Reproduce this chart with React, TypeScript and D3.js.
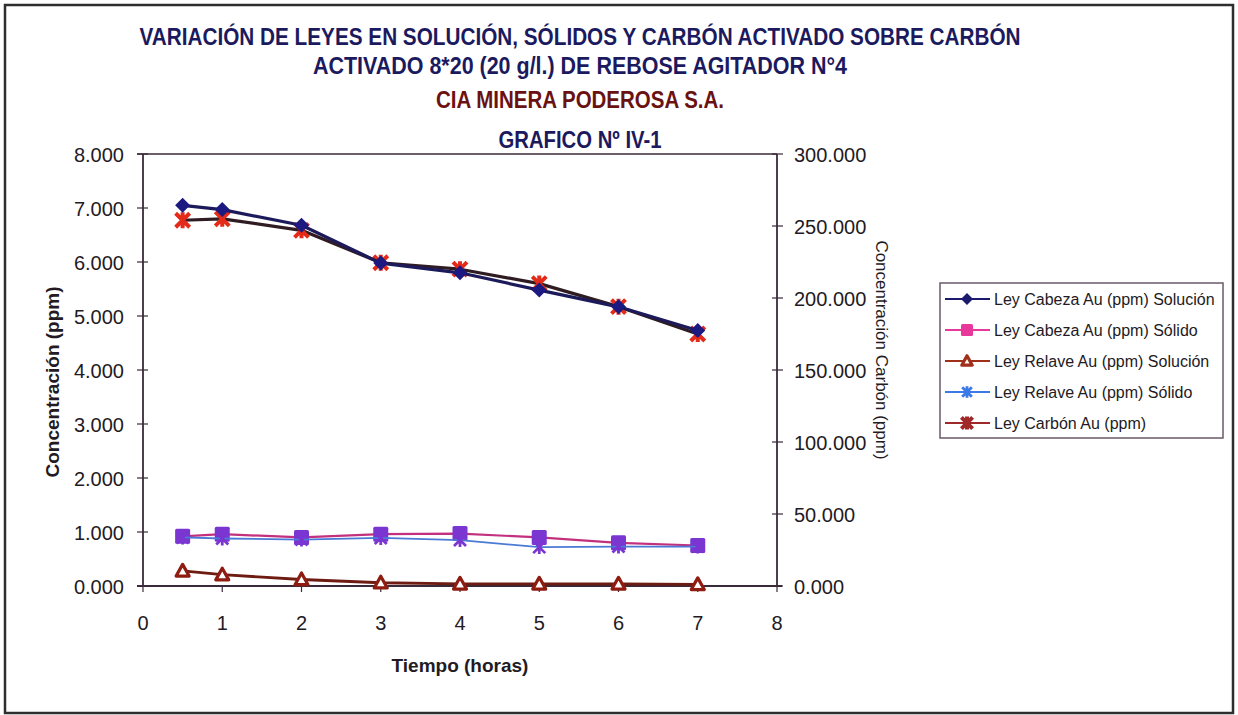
import React from "react";
import * as d3 from "d3";

const hours = [0.5, 1, 2, 3, 4, 5, 6, 7];
const cabezaSolucion = [7.05, 6.97, 6.68, 5.98, 5.8, 5.48, 5.17, 4.73];
const cabezaSolido = [0.92, 0.96, 0.9, 0.96, 0.97, 0.9, 0.8, 0.75];
const relaveSolucion = [0.28, 0.21, 0.12, 0.06, 0.04, 0.04, 0.04, 0.03];
const relaveSolido = [0.9, 0.88, 0.86, 0.89, 0.85, 0.72, 0.73, 0.73];
const carbon = [254, 255, 247, 224.5, 220, 210, 194, 175];

const xTicks = [0, 1, 2, 3, 4, 5, 6, 7, 8];
const leftTicks = [0, 1, 2, 3, 4, 5, 6, 7, 8];
const rightTicks = [0, 50, 100, 150, 200, 250, 300];

const titleLines = [
  "VARIACIÓN DE LEYES EN SOLUCIÓN, SÓLIDOS Y CARBÓN ACTIVADO SOBRE CARBÓN",
  "ACTIVADO 8*20 (20 g/l.) DE REBOSE AGITADOR N°4",
  "CIA MINERA PODEROSA S.A.",
  "GRAFICO Nº IV-1",
];
const legendLabels = [
  "Ley Cabeza Au (ppm) Solución",
  "Ley Cabeza Au (ppm) Sólido",
  "Ley Relave Au (ppm) Solución",
  "Ley Relave Au (ppm) Sólido",
  "Ley Carbón Au (ppm)",
];

const fmt = (v: number) => d3.format(".3f")(v).replace(/,/g, "");

const x = d3.scaleLinear().domain([0, 8]).range([143, 777]);
const yL = d3.scaleLinear().domain([0, 8]).range([586, 154]);
const yR = d3.scaleLinear().domain([0, 300]).range([586, 154]);

const AX = "#3a2a3a";
const TXT = "#231a23";
const FONT = "'Liberation Sans', Arial, sans-serif";
const NARROW = "'Liberation Sans Narrow', 'Arial Narrow', 'Liberation Sans', Arial, sans-serif";

type MarkerKind = "diamond" | "square" | "triangle" | "x" | "star";

function Marker({ kind, cx, cy, color, legend }: { kind: MarkerKind; cx: number; cy: number; color: string; legend?: boolean }) {
  const s = legend ? 0.8 : 1;
  if (kind === "diamond") {
    const r = 7.5 * s;
    return <path d={`M${cx},${cy - r}L${cx + r},${cy}L${cx},${cy + r}L${cx - r},${cy}Z`} fill={color} />;
  }
  if (kind === "square") {
    const r = 7.5 * s;
    return <rect x={cx - r} y={cy - r} width={2 * r} height={2 * r} rx={1.5} fill={color} />;
  }
  if (kind === "triangle") {
    const r = 6.5 * s;
    return (
      <path
        d={`M${cx},${cy - r}L${cx + r},${cy + r * 0.8}L${cx - r},${cy + r * 0.8}Z`}
        fill="#fff"
        stroke={color}
        strokeWidth={3.2}
        strokeLinejoin="round"
      />
    );
  }
  if (kind === "x") {
    const r = 6 * s;
    return (
      <path
        d={`M${cx - r},${cy - r}L${cx + r},${cy + r}M${cx - r},${cy + r}L${cx + r},${cy - r}M${cx},${cy - r - 1}L${cx},${cy + r + 1}`}
        stroke={color}
        strokeWidth={2.8}
      />
    );
  }
  const r = 7 * s;
  return (
    <path
      d={`M${cx - r},${cy - r}L${cx + r},${cy + r}M${cx - r},${cy + r}L${cx + r},${cy - r}M${cx},${cy - r - 1}L${cx},${cy + r + 1}`}
      stroke={color}
      strokeWidth={4}
    />
  );
}

type Series = {
  values: number[];
  axis: "L" | "R";
  line: string;
  lineW: number;
  marker: MarkerKind;
  markerColor: string;
  legendColor: string;
  legendMarker: string;
};

const series: Series[] = [
  { values: cabezaSolido, axis: "L", line: "#c2307e", lineW: 2.2, marker: "square", markerColor: "#7b36d2", legendColor: "#e8389a", legendMarker: "#e8389a" },
  { values: relaveSolido, axis: "L", line: "#4a7ad6", lineW: 1.8, marker: "x", markerColor: "#7b36d2", legendColor: "#3a7ae8", legendMarker: "#3a7ae8" },
  { values: relaveSolucion, axis: "L", line: "#6e1c12", lineW: 2.8, marker: "triangle", markerColor: "#8e1c10", legendColor: "#a0301a", legendMarker: "#a0301a" },
  { values: carbon, axis: "R", line: "#2e1c22", lineW: 3.2, marker: "star", markerColor: "#e42a18", legendColor: "#a02828", legendMarker: "#a02828" },
  { values: cabezaSolucion, axis: "L", line: "#1c1a5a", lineW: 3.2, marker: "diamond", markerColor: "#1c1a80", legendColor: "#1a1a6e", legendMarker: "#1a1a6e" },
];

const legendOrder: { idx: number; marker: MarkerKind }[] = [
  { idx: 4, marker: "diamond" },
  { idx: 0, marker: "square" },
  { idx: 2, marker: "triangle" },
  { idx: 1, marker: "x" },
  { idx: 3, marker: "star" },
];

export default function App() {
  const titleY = [45, 74, 108, 148];
  const titleW = [881, 534, 288, 163];
  const titleColor = ["#1c1a5e", "#1c1a5e", "#6a1212", "#1c1a5e"];

  return (
    <svg
      width={1238}
      height={715}
      style={{ position: "absolute", left: 0, top: 0, background: "#fff" }}
    >
      <rect x={0} y={0} width={1238} height={715} fill="#fff" />
      <rect x={5} y={5} width={1228} height={708} fill="none" stroke="#2e2e2e" strokeWidth={2.5} />

      {titleLines.map((t, i) => (
        <text
          key={i}
          x={580}
          y={titleY[i]}
          textAnchor="middle"
          fontFamily={NARROW}
          fontWeight="bold"
          fontSize={24}
          fill={titleColor[i]}
          textLength={titleW[i]}
          lengthAdjust="spacingAndGlyphs"
        >
          {t}
        </text>
      ))}

      {/* plot frame */}
      <line x1={137} x2={x(8)} y1={yL(8)} y2={yL(8)} stroke={AX} strokeWidth={1.6} />
      <line x1={x(0)} x2={x(0)} y1={yL(8)} y2={yL(0)} stroke={AX} strokeWidth={1.8} />
      <line x1={x(8)} x2={x(8)} y1={yL(8)} y2={yL(0)} stroke={AX} strokeWidth={1.8} />
      <line x1={137} x2={x(8) + 5} y1={yL(0)} y2={yL(0)} stroke={AX} strokeWidth={1.8} />

      {leftTicks.map((t) => (
        <g key={"l" + t}>
          <line x1={x(0) - 6} x2={x(0) + 5} y1={yL(t)} y2={yL(t)} stroke={AX} strokeWidth={1.2} />
          <text x={124} y={yL(t) + 7.5} textAnchor="end" fontFamily={FONT} fontSize={20} fill={TXT}>
            {fmt(t)}
          </text>
        </g>
      ))}
      {rightTicks.map((t) => (
        <g key={"r" + t}>
          <line x1={x(8) - 5} x2={x(8) + 6} y1={yR(t)} y2={yR(t)} stroke={AX} strokeWidth={1.2} />
          <text x={794} y={yR(t) + 7.5} textAnchor="start" fontFamily={FONT} fontSize={20} fill={TXT}>
            {fmt(t)}
          </text>
        </g>
      ))}
      {xTicks.map((t) => (
        <g key={"x" + t}>
          <line x1={x(t)} x2={x(t)} y1={yL(0)} y2={yL(0) + 6} stroke={AX} strokeWidth={1.2} />
          <text x={x(t)} y={630} textAnchor="middle" fontFamily={FONT} fontSize={20} fill={TXT}>
            {t}
          </text>
        </g>
      ))}

      <text
        transform={`translate(59,382) rotate(-90)`}
        textAnchor="middle"
        fontFamily={FONT}
        fontWeight="bold"
        fontSize={19}
        fill={TXT}
      >
        Concentración (ppm)
      </text>
      <text x={460} y={672} textAnchor="middle" fontFamily={FONT} fontWeight="bold" fontSize={19} fill={TXT}>
        Tiempo (horas)
      </text>
      <text
        transform={`translate(876,350) rotate(90)`}
        textAnchor="middle"
        fontFamily={FONT}
        fontSize={17}
        fill={TXT}
      >
        Concentración Carbón (ppm)
      </text>

      {/* series */}
      {series.map((s, si) => {
        const yS = s.axis === "L" ? yL : yR;
        const gen = d3
          .line<number>()
          .x((_, i) => x(hours[i]))
          .y((v) => yS(v));
        return (
          <g key={"s" + si}>
            <path d={gen(s.values) || ""} fill="none" stroke={s.line} strokeWidth={s.lineW} strokeLinejoin="round" />
            {s.values.map((v, i) => (
              <Marker key={i} kind={s.marker} cx={x(hours[i])} cy={yS(v)} color={s.markerColor} />
            ))}
          </g>
        );
      })}

      {/* legend */}
      <rect x={940} y={283} width={283} height={155} fill="#fff" stroke="#6a5a6a" strokeWidth={1.5} />
      {legendOrder.map((l, i) => {
        const s = series[l.idx];
        const cy = 299 + i * 31;
        return (
          <g key={"lg" + i}>
            <line x1={945} x2={990} y1={cy} y2={cy} stroke={s.legendColor} strokeWidth={2} />
            <Marker kind={l.marker} cx={967} cy={cy} color={s.legendMarker} legend />
            <text x={994} y={cy + 6} fontFamily={FONT} fontSize={16} fill={TXT}>
              {legendLabels[i]}
            </text>
          </g>
        );
      })}
    </svg>
  );
}
